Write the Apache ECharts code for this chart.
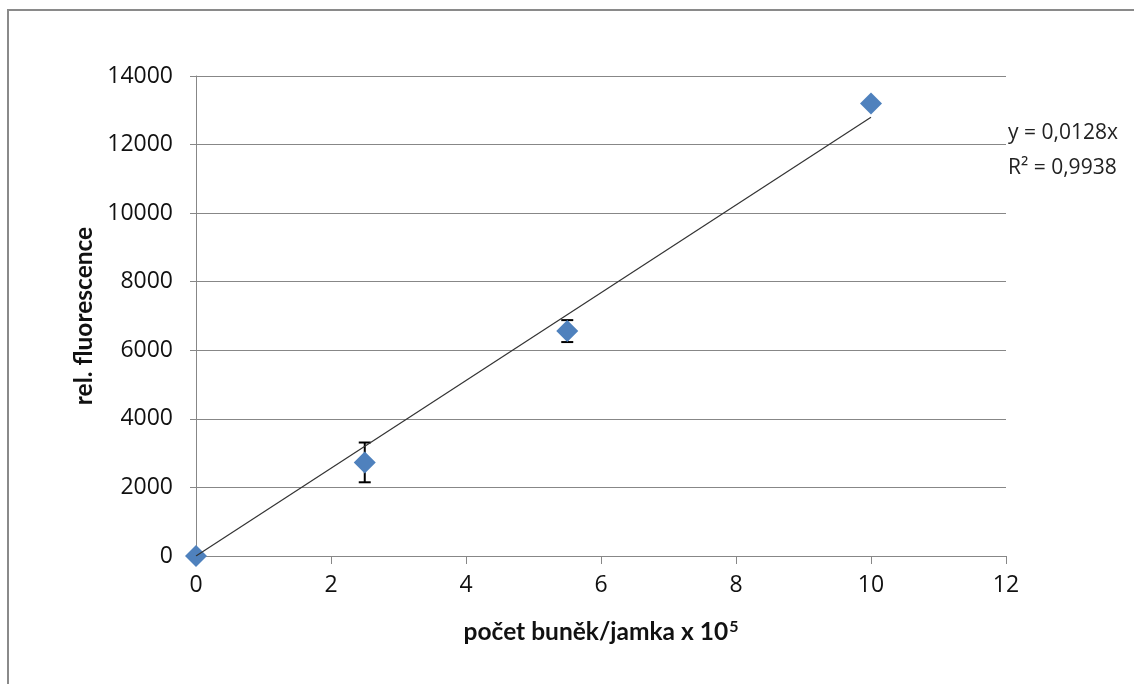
<!DOCTYPE html>
<html>
<head>
<meta charset="utf-8">
<title>rel. fluorescence</title>
<script src="https://cdn.jsdelivr.net/npm/echarts@6/dist/echarts.min.js"></script>
<style>
  html, body { margin: 0; padding: 0; background: #fff; }
  #chart { width: 1134px; height: 684px; }
</style>
</head>
<body>
<div id="chart"></div>
<script>
// cell count per well (x 10^5)
const cellCounts = [0, 2.5, 5.5, 10];
// mean relative fluorescence
const fluorescence = [0, 2730, 6560, 13200];
// standard deviation for each point
const errors = [0, 580, 320, 0];
// linear fit through origin: y = 0,0128x (x in cells), R² = 0,9938
const slope = 0.0128;
const rSquared = '0,9938';
const cellScale = 1e5;
const fitRange = [0, 10];

const xTicks = { min: 0, max: 12, interval: 2 };
const yTicks = { min: 0, max: 14000, interval: 2000 };

const points = cellCounts.map((x, i) => [x, fluorescence[i]]);
const errorData = cellCounts.map((x, i) => [x, fluorescence[i] - errors[i], fluorescence[i] + errors[i]]);
const fitLine = fitRange.map(x => [x, slope * x * cellScale]);

const titleFont = 'Lato, "Open Sans", "Noto Sans", sans-serif';
const labelFont = '"Open Sans", Lato, "Noto Sans", sans-serif';
const gray = '#878787';
const labelSize = 23;
const titleSize = 24.5;

const chart = echarts.init(document.getElementById('chart'));
chart.setOption({
  backgroundColor: '#fff',
  animation: false,
  textStyle: { fontFamily: labelFont },
  grid: { left: 196, right: 128, top: 76, bottom: 128 },
  xAxis: {
    type: 'value',
    min: xTicks.min, max: xTicks.max, interval: xTicks.interval,
    name: '{b|počet buněk/jamka x 10}{s|5}',
    nameLocation: 'middle',
    nameGap: 63,
    nameTextStyle: {
      rich: {
        b: { fontFamily: titleFont, fontSize: titleSize, fontWeight: 'bold', color: '#111' },
        s: { fontFamily: titleFont, fontSize: 16, fontWeight: 'bold', color: '#111', verticalAlign: 'top', padding: [0, 0, 10, 1] }
      }
    },
    axisLine: { show: true, onZero: false, lineStyle: { color: gray, width: 1 } },
    axisTick: { show: true, inside: false, length: 8, lineStyle: { color: gray } },
    axisLabel: { fontSize: labelSize, color: '#111', margin: 18, fontFamily: labelFont, formatter: v => String(v) },
    splitLine: { show: false }
  },
  yAxis: {
    type: 'value',
    min: yTicks.min, max: yTicks.max, interval: yTicks.interval,
    name: 'rel. fluorescence',
    nameLocation: 'middle',
    nameGap: 95,
    nameRotate: 90,
    nameTextStyle: { fontFamily: titleFont, fontSize: titleSize, fontWeight: 'bold', color: '#111' },
    axisLine: { show: true, onZero: false, lineStyle: { color: gray, width: 1 } },
    axisTick: { show: true, inside: false, length: 6, lineStyle: { color: gray } },
    axisLabel: { fontSize: labelSize, color: '#111', margin: 23, fontFamily: labelFont, formatter: v => String(v) },
    splitLine: { show: true, lineStyle: { color: gray, width: 1 } }
  },
  graphic: [
    {
      type: 'rect',
      shape: { x: 8, y: 10, width: 1200, height: 800 },
      style: { fill: 'none', stroke: '#8a8a8a', lineWidth: 2 },
      silent: true
    },
    {
      type: 'text',
      left: 1008, top: 116,
      style: {
        text: 'y = 0,' + String(slope).split('.')[1] + 'x\nR² = ' + rSquared,
        fontFamily: labelFont, fontSize: 21, fill: '#222', lineHeight: 35
      },
      silent: true
    }
  ],
  series: [
    {
      type: 'custom',
      z: 2,
      data: errorData,
      renderItem: function (params, api) {
        const x = api.value(0);
        const lo = api.coord([x, api.value(1)]);
        const hi = api.coord([x, api.value(2)]);
        if (Math.abs(hi[1] - lo[1]) < 1) return null;
        const cap = 6;
        const style = { stroke: '#000', lineWidth: 2 };
        return {
          type: 'group',
          children: [
            { type: 'line', shape: { x1: lo[0], y1: lo[1], x2: hi[0], y2: hi[1] }, style: style },
            { type: 'line', shape: { x1: lo[0] - cap, y1: lo[1], x2: lo[0] + cap, y2: lo[1] }, style: style },
            { type: 'line', shape: { x1: hi[0] - cap, y1: hi[1], x2: hi[0] + cap, y2: hi[1] }, style: style }
          ]
        };
      }
    },
    {
      type: 'scatter',
      z: 3,
      data: points,
      symbol: 'diamond',
      symbolSize: [22, 22],
      itemStyle: { color: '#4F81BD', opacity: 1 }
    },
    {
      type: 'line',
      z: 4,
      data: fitLine,
      symbol: 'none',
      lineStyle: { color: '#333', width: 1.2 },
      silent: true
    }
  ]
});
</script>
</body>
</html>
